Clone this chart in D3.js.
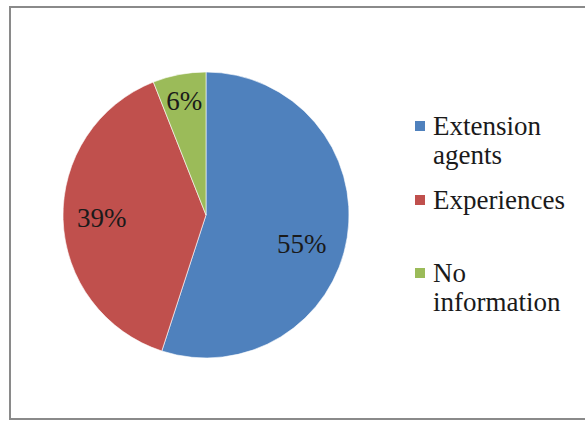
<!DOCTYPE html>
<html>
<head>
<meta charset="utf-8">
<script src="https://cdn.jsdelivr.net/npm/d3@7"></script>
<style>
  body { margin: 0; background: #fff; }
  svg { display: block; }
</style>
</head>
<body>
<div id="chart"></div>
<script>
// --- データ ---
const categories = ["Extension agents", "Experiences", "No information"];
const values = [55, 39, 6];
const colors = ["#4F81BD", "#C0504D", "#9BBB59"];
// 凡例の折り返し
const legendLines = [["Extension", "agents"], ["Experiences"], ["No", "information"]];
const FONT = "Liberation Serif";

const W = 585, H = 421;
const svg = d3.select("#chart").append("svg")
  .attr("width", W).attr("height", H);

// 枠線（左・上・下）
svg.append("path")
  .attr("d", `M585,7 H10 V419 H585`)
  .attr("fill", "none")
  .attr("stroke", "#8a8a8a")
  .attr("stroke-width", 2);

// --- パイ ---
const cx = 206, cy = 215, r = 143;
const pie = d3.pie().sort(null).value(d => d);
const arcs = pie(values);
const arc = d3.arc().innerRadius(0).outerRadius(r);

const g = svg.append("g").attr("transform", `translate(${cx},${cy})`);
g.selectAll("path.slice")
  .data(arcs)
  .enter().append("path")
  .attr("class", "slice")
  .attr("d", arc)
  .attr("fill", (d, i) => colors[i])
  .attr("stroke", "#fff")
  .attr("stroke-width", 0.6);

// ラベル位置（半径の割合と角度の補正）
const labelR = [0.70, 0.73, 0.81];
const labelShift = [8, 0, 0];
g.selectAll("text.pct")
  .data(arcs)
  .enter().append("text")
  .attr("class", "pct")
  .attr("transform", (d, i) => {
    const a = (d.startAngle + d.endAngle) / 2 + labelShift[i] * Math.PI / 180;
    const rr = r * labelR[i];
    return `translate(${Math.sin(a) * rr},${-Math.cos(a) * rr})`;
  })
  .attr("text-anchor", "middle")
  .attr("dy", "0.33em")
  .style("font-family", FONT, "important")
  .style("font-size", "27px")
  .attr("fill", "#1a1a1a")
  .text(d => d.data + "%");

// --- 凡例 ---
const legendY = [126, 200, 273];
const legend = svg.append("g");
const item = legend.selectAll("g")
  .data(categories)
  .enter().append("g")
  .attr("transform", (d, i) => `translate(415,${legendY[i]})`);

item.append("rect")
  .attr("x", 0).attr("y", -5)
  .attr("width", 10).attr("height", 10)
  .attr("fill", (d, i) => colors[i]);

item.append("text")
  .attr("x", 18)
  .attr("y", 9)
  .style("font-family", FONT, "important")
  .style("font-size", "27px")
  .attr("fill", "#1a1a1a")
  .each(function(d, i) {
    const t = d3.select(this);
    legendLines[i].forEach((line, j) => {
      t.append("tspan").attr("x", 18).attr("dy", j === 0 ? 0 : 29).text(line);
    });
  });
</script>
</body>
</html>
